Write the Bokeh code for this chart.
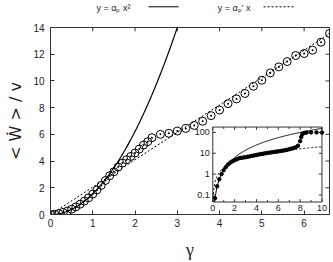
import numpy as np
from bokeh.plotting import figure
from bokeh.plotting.glyph_api import GlyphAPI
from bokeh.models import Range1d, LinearScale, LogScale, CoordinateMapping
from bokeh.layouts import column
from bokeh.core.properties import value
from bokeh.embed import file_html
from bokeh.resources import INLINE

# ---------------- data ----------------
gamma = [0.0, 0.1, 0.2, 0.3, 0.4, 0.5, 0.6, 0.7, 0.8, 0.9, 1.0, 1.1, 1.2, 1.3, 1.4,
         1.5, 1.6, 1.7, 1.8, 1.9, 2.0, 2.1, 2.2, 2.3, 2.4,
         2.6, 2.8, 3.0, 3.2, 3.4, 3.6, 3.8, 4.0, 4.2, 4.4, 4.6, 4.8, 5.0, 5.2, 5.4,
         5.6, 5.8, 6.0, 6.2, 6.4, 6.6]
w_over_v = [0.0, 0.02, 0.07, 0.15, 0.26, 0.4, 0.57, 0.77, 1.0, 1.25, 1.53, 1.84, 2.18, 2.55, 2.9,
            3.2, 3.55, 3.85, 4.1, 4.35, 4.6, 4.9, 5.2, 5.45, 5.75,
            6.0, 6.08, 6.25, 6.44, 6.67, 6.98, 7.4, 7.82, 8.3, 8.65, 9.06, 9.6, 10.05, 10.6, 11.05,
            11.45, 11.9, 12.05, 12.3, 12.9, 13.55]

inset_gamma = [0.2, 0.4, 0.6, 0.8, 1.0, 1.2, 1.4, 1.6, 1.8, 2.0, 2.2, 2.4, 2.6, 2.8, 3.0,
               3.2, 3.4, 3.6, 3.8, 4.0, 4.2, 4.4, 4.6, 4.8, 5.0, 5.2, 5.4, 5.6, 5.8, 6.0,
               6.2, 6.4, 6.6, 6.8, 7.0, 7.2, 7.4, 7.6, 7.8, 8.0, 8.1, 8.2, 8.4, 8.6, 9.0, 9.5, 10.0]
inset_w = [0.07, 0.26, 0.57, 1.0, 1.53, 2.18, 2.9, 3.55, 4.1, 4.6, 5.2, 5.75, 6.0, 6.2, 6.5,
           6.8, 7.1, 7.5, 7.9, 8.3, 8.7, 9.1, 9.5, 9.9, 10.3, 10.7, 11.1, 11.5, 11.9, 12.3,
           12.8, 13.3, 13.9, 14.6, 15.5, 16.5, 17.7, 19.5, 23.0, 38.0, 60.0, 82.0, 95.0, 98.0, 100.0, 100.0, 98.0]

alpha_p = 1.556        # y = alpha_p x^2
alpha_p_prime = 2.05   # y = alpha_p' x

x_ticks = [0, 1, 2, 3, 4, 5, 6]
y_ticks = [0, 2, 4, 6, 8, 10, 12, 14]
inset_x_ticks = [0, 2, 4, 6, 8, 10]
inset_x_minor = [1, 3, 5, 7, 9]
inset_y_ticks = [0.1, 1, 10, 100]
inset_y_labels = ["0.1", "1", "10", "100"]
inset_x_labels = ["0", "2", "4", "6", "8", "10"]
legend_labels = ["y = αₚ x²", "y = αₚ' x"]

FONT = "Liberation Sans"
TXT = "#222222"
AX = "#333333"

X0, X1 = 0, 6.6
Y0, Y1 = 0, 14
W = 333
LEG_H = 14

# ---------------- legend strip (gnuplot style: text then sample) ----------------
leg = figure(width=W, height=LEG_H, x_range=Range1d(X0, X1), y_range=Range1d(0, 1),
             output_backend="svg", toolbar_location=None, x_axis_type=None, y_axis_type=None,
             min_border_left=50, min_border_right=4, min_border_top=0, min_border_bottom=0)
leg.outline_line_color = None
leg.grid.visible = False
leg.text(x=[1.89, 4.73], y=[0.5, 0.5], text=legend_labels, text_align="right",
         text_baseline="middle", text_font=value(FONT), text_font_size="9px", text_color=TXT)
leg.line([2.32, 3.03], [0.55, 0.55], line_color="black", line_width=1)
leg.line([5.04, 5.77], [0.55, 0.55], line_color="black", line_width=1, line_dash="2 2")

# ---------------- main figure ----------------
p = figure(width=W, height=262 - LEG_H, x_range=leg.x_range, y_range=Range1d(Y0, Y1),
           output_backend="svg", toolbar_location=None,
           min_border_left=50, min_border_right=4, min_border_top=27 - LEG_H, min_border_bottom=40)
p.grid.visible = False
p.outline_line_color = AX
p.background_fill_color = "white"

for ax in (p.xaxis[0], p.yaxis[0]):
    ax.major_tick_in = 4
    ax.major_tick_out = 0
    ax.minor_tick_line_color = None
    ax.axis_line_color = AX
    ax.major_tick_line_color = AX
    ax.major_label_text_font = FONT
    ax.major_label_text_font_size = "10px"
    ax.major_label_text_color = TXT
    ax.axis_label_text_font_style = "normal"
    ax.axis_label_text_color = TXT

p.xaxis.ticker = x_ticks
p.yaxis.ticker = y_ticks
p.xaxis.major_label_standoff = 4
p.yaxis.major_label_standoff = 6
p.xaxis.axis_label = "γ"
p.xaxis.axis_label_text_font = "Liberation Serif"
p.xaxis.axis_label_text_font_size = "18px"
p.xaxis.axis_label_standoff = 10
p.yaxis.axis_label = "< Ẇ > / v"
p.yaxis.axis_label_text_font = "DejaVu Sans"
p.yaxis.axis_label_text_font_size = "16px"
p.yaxis.axis_label_standoff = 5

# mirror ticks on top and right edges
kt = 4 / 13.93
kr = 4 / 42.27
p.segment(x0=x_ticks, y0=[Y1] * len(x_ticks), x1=x_ticks, y1=[Y1 - kt] * len(x_ticks), line_color=AX)
p.segment(x0=[X1] * len(y_ticks), y0=y_ticks, x1=[X1 - kr] * len(y_ticks), y1=y_ticks, line_color=AX)

# fit curves
xs_sq = np.linspace(0, 3.1, 120)
p.line(xs_sq, alpha_p * xs_sq ** 2, line_color="black", line_width=1.2)
xs_lin = np.array([X0, X1])
p.line(xs_lin, alpha_p_prime * xs_lin, line_color="black", line_width=1, line_dash="2 2")

# data
p.scatter(gamma, w_over_v, marker="circle_dot", size=8, fill_color=None,
          line_color="black", line_width=1)

# ---------------- inset (log-y) ----------------
ix0, ix1 = 0, 10
iy0, iy1 = 0.046, 180
cm = CoordinateMapping(x_source=Range1d(ix0, ix1), y_source=Range1d(iy0, iy1),
                       x_scale=LinearScale(), y_scale=LogScale(),
                       x_target=Range1d(3.839, 6.422), y_target=Range1d(0.935, 6.547))
sub = GlyphAPI(p, cm)

sub.quad(left=[ix0], right=[ix1], bottom=[iy0], top=[iy1], fill_color="white",
         line_color=AX, line_width=1)

xs_i = np.linspace(np.sqrt(iy0 / alpha_p), min(np.sqrt(iy1 / alpha_p), ix1), 200)
sub.line(xs_i, alpha_p * xs_i ** 2, line_color="black", line_width=1)
xl_i = np.linspace(iy0 / alpha_p_prime, ix1, 200)
sub.line(xl_i, alpha_p_prime * xl_i, line_color="black", line_width=1, line_dash="2 2")

sub.scatter(inset_gamma, inset_w, marker="circle", size=3.5, fill_color="black", line_color="black")

# inset ticks
tl = 10 ** (3 / 21.7)
tl_minor = 10 ** (2 / 21.7)
n = len(inset_x_ticks)
sub.segment(x0=inset_x_ticks, y0=[iy0] * n, x1=inset_x_ticks, y1=[iy0 * tl] * n, line_color=AX)
sub.segment(x0=inset_x_ticks, y0=[iy1] * n, x1=inset_x_ticks, y1=[iy1 / tl] * n, line_color=AX)
m = len(inset_x_minor)
sub.segment(x0=inset_x_minor, y0=[iy0] * m, x1=inset_x_minor, y1=[iy0 * tl_minor] * m, line_color=AX)
sub.segment(x0=inset_x_minor, y0=[iy1] * m, x1=inset_x_minor, y1=[iy1 / tl_minor] * m, line_color=AX)
k = len(inset_y_ticks)
sub.segment(x0=[ix0] * k, y0=inset_y_ticks, x1=[ix0 + 0.28] * k, y1=inset_y_ticks, line_color=AX)
sub.segment(x0=[ix1] * k, y0=inset_y_ticks, x1=[ix1 - 0.28] * k, y1=inset_y_ticks, line_color=AX)

sub.text(x=inset_x_ticks, y=[iy0] * n, text=inset_x_labels, y_offset=3, text_baseline="top",
         text_align="center", text_font_size="9px", text_font=value(FONT), text_color=TXT)
sub.text(x=[ix0] * k, y=inset_y_ticks, text=inset_y_labels, x_offset=-3, text_baseline="middle",
         text_align="right", text_font_size="9px", text_font=value(FONT), text_color=TXT)

layout = column(leg, p, spacing=0)
open("out.html", "w").write(file_html(layout, INLINE))
